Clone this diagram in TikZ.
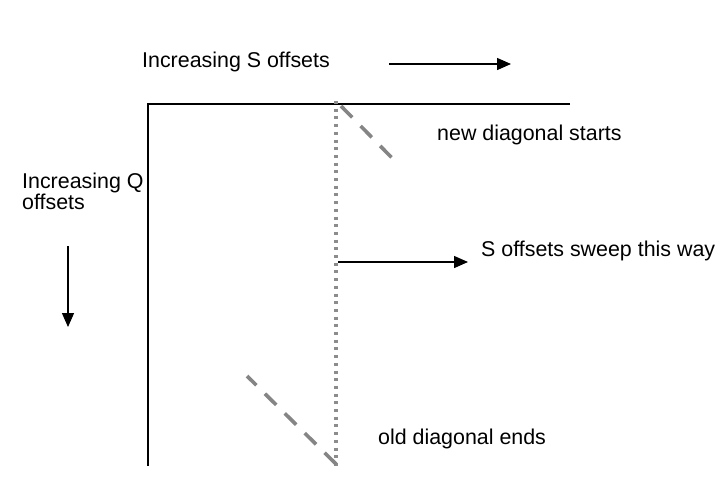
\documentclass[tikz,border=0pt]{standalone}
\usepackage{fontspec}
\setmainfont{Liberation Sans}
\usetikzlibrary{arrows.meta}
\begin{document}
\begin{tikzpicture}[x=1pt,y=-1pt,
  lbl/.style={anchor=base west,inner sep=0pt,font=\fontsize{21.4}{23}\selectfont},
  axis/.style={line width=1.4pt,black},
  arr/.style={line width=1.4pt,-{Triangle[length=14pt,width=12pt]}},
  dotline/.style={line width=3.5pt,color=black!45,dash pattern=on 3pt off 4.7pt},
  dashline/.style={line width=3.6pt,color=black!48,dash pattern=on 16pt off 12pt}]
\useasboundingbox (0,0) rectangle (728,482);
% axes
\coordinate (origin) at (148,104);
\coordinate (xend) at (570,104);
\coordinate (yend) at (148,466);
\draw[axis] (xend) -- (origin) -- (yend);
% dotted sweep line
\coordinate (dtop) at (336,101);
\coordinate (dbot) at (336,466);
\draw[dotline] (dtop) -- (dbot);
% diagonals
\coordinate (ns) at (341,106);
\coordinate (ne) at (396,162);
\draw[dashline] (ns) -- (ne);
\coordinate (os) at (336,464);
\coordinate (oe) at (247,376);
\draw[dashline] (os) -- (oe);
% arrows
\coordinate (a1s) at (389,64);
\coordinate (a1e) at (511,64);
\draw[arr] (a1s) -- (a1e);
\coordinate (a2s) at (68,246);
\coordinate (a2e) at (68,327);
\draw[arr] (a2s) -- (a2e);
\coordinate (a3s) at (338,262);
\coordinate (a3e) at (468,262);
\draw[arr] (a3s) -- (a3e);
% labels
\node[lbl] (ls) at (142,67) {Increasing S offsets};
\node[lbl] (lq1) at (22,188) {Increasing Q};
\node[lbl] (lq2) at (22,209) {offsets};
\node[lbl] (lnew) at (437,140) {new diagonal starts};
\node[lbl] (lsweep) at (481,256) {S offsets sweep this way};
\node[lbl] (lold) at (378,444) {old diagonal ends};
\end{tikzpicture}
\end{document}
